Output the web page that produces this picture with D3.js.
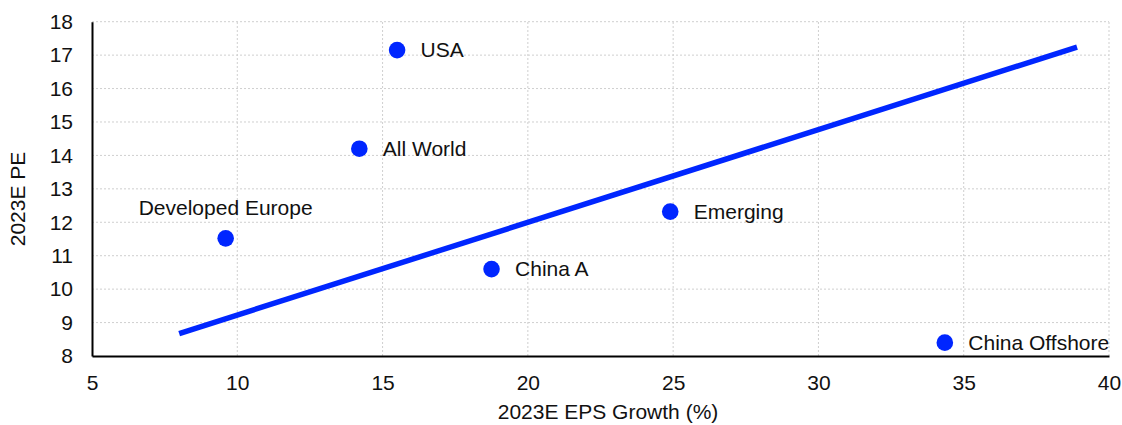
<!DOCTYPE html>
<html>
<head>
<meta charset="utf-8">
<script src="https://cdn.jsdelivr.net/npm/d3@7"></script>
<style>
  html, body { margin: 0; padding: 0; background: #fff; }
  svg { display: block; font-family: "Liberation Sans", Arial, sans-serif; }
</style>
</head>
<body>
<svg id="chart" width="1122" height="425"></svg>
<script>
// ---- data ----
const regions = ["USA", "All World", "Developed Europe", "China A", "Emerging", "China Offshore"];
const epsGrowth = [15.5, 14.2, 9.6, 18.75, 24.9, 34.35];
const pe = [17.15, 14.2, 11.52, 10.6, 12.32, 8.4];
const labelPos = ["right", "right", "above", "right", "right", "right"];
const trendX = [8, 38.9];
const trendY = [8.67, 17.24];
const xTicks = [5, 10, 15, 20, 25, 30, 35, 40];
const yTicks = [8, 9, 10, 11, 12, 13, 14, 15, 16, 17, 18];
const xTitle = "2023E EPS Growth (%)";
const yTitle = "2023E PE";

// ---- layout ----
const W = 1122, H = 425;
const m = { left: 92, right: 13, top: 21.7, bottom: 69 };
const blue = "#0026ff";
const svg = d3.select("#chart");

const x = d3.scaleLinear().domain([5, 40]).range([m.left, W - m.right]);
const y = d3.scaleLinear().domain([8, 18]).range([H - m.bottom, m.top]);

// gridlines
const grid = svg.append("g").attr("stroke", "#cfcfcf").attr("stroke-width", 1)
  .attr("stroke-dasharray", "2,2");
grid.selectAll("line.v").data(xTicks.slice(1)).join("line")
  .attr("x1", d => x(d)).attr("x2", d => x(d))
  .attr("y1", y(8)).attr("y2", y(18));
grid.selectAll("line.h").data(yTicks.slice(1)).join("line")
  .attr("x1", x(5)).attr("x2", x(40))
  .attr("y1", d => y(d)).attr("y2", d => y(d));

// axes
const xAxis = svg.append("g").attr("transform", `translate(0,${y(8)})`)
  .call(d3.axisBottom(x).tickValues(xTicks).tickFormat(d3.format("d")).tickSize(0).tickPadding(19));
const yAxis = svg.append("g").attr("transform", `translate(${x(5)},0)`)
  .call(d3.axisLeft(y).tickValues(yTicks).tickFormat(d3.format("d")).tickSize(0).tickPadding(19));
[xAxis, yAxis].forEach(a => {
  a.select(".domain").attr("stroke", "#000").attr("stroke-width", 2);
  a.selectAll("text").attr("font-size", 21).attr("fill", "#111")
    .attr("font-family", "'Liberation Sans', Arial, sans-serif");
});

// trend line
svg.append("line")
  .attr("x1", x(trendX[0])).attr("y1", y(trendY[0]))
  .attr("x2", x(trendX[1])).attr("y2", y(trendY[1]))
  .attr("stroke", blue).attr("stroke-width", 5.5);

// points
const pts = regions.map((r, i) => ({ r, x: epsGrowth[i], y: pe[i], pos: labelPos[i] }));
svg.append("g").selectAll("circle").data(pts).join("circle")
  .attr("cx", d => x(d.x)).attr("cy", d => y(d.y)).attr("r", 8.3).attr("fill", blue);

svg.append("g").selectAll("text").data(pts).join("text")
  .attr("x", d => d.pos === "above" ? x(d.x) : x(d.x) + 23.5)
  .attr("y", d => d.pos === "above" ? y(d.y) - 23 : y(d.y))
  .attr("dy", d => d.pos === "above" ? "0" : "0.35em")
  .attr("text-anchor", d => d.pos === "above" ? "middle" : "start")
  .attr("font-size", 21).attr("fill", "#111")
  .text(d => d.r);

// titles
svg.append("text").attr("x", 608).attr("y", 419)
  .attr("text-anchor", "middle").attr("font-size", 21).attr("fill", "#111").text(xTitle);
svg.append("text").attr("transform", "translate(25,199) rotate(-90)")
  .attr("text-anchor", "middle").attr("font-size", 21).attr("fill", "#111").text(yTitle);
</script>
</body>
</html>
